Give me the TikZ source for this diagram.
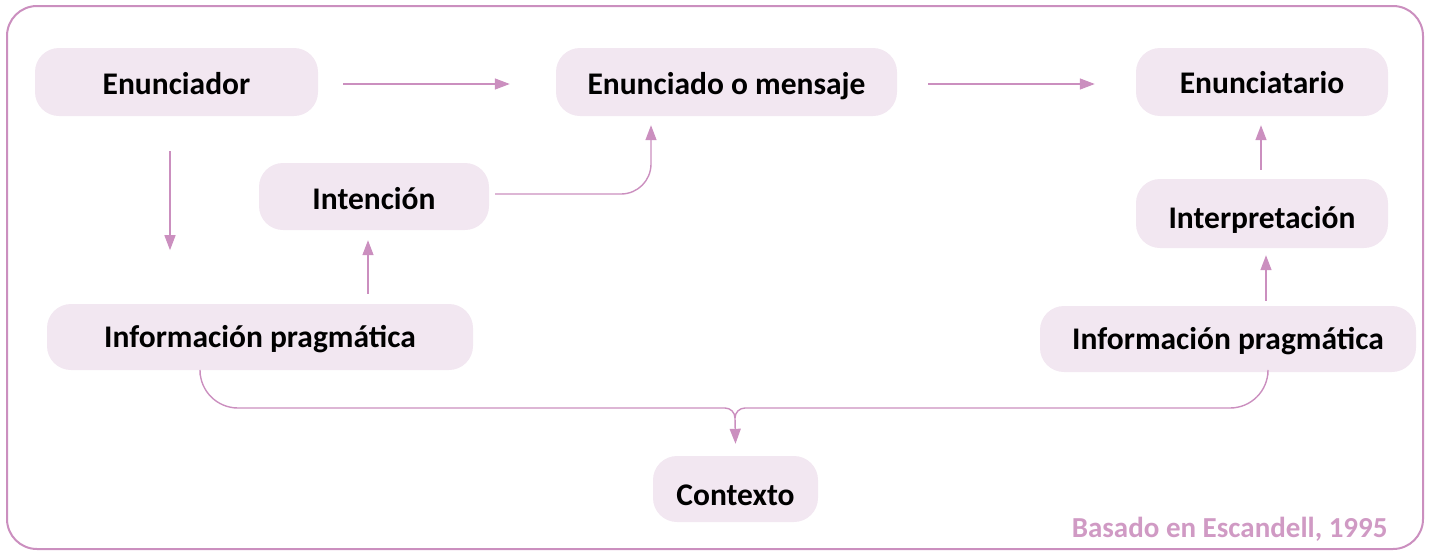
\documentclass[tikz,border=0pt]{standalone}
\usepackage{fontspec}
\setmainfont{Carlito}
\usetikzlibrary{arrows.meta}
\definecolor{frame}{HTML}{CB8FBF}
\definecolor{boxfill}{HTML}{F2E7F1}
\definecolor{credit}{HTML}{D09AC4}
\begin{document}
\begin{tikzpicture}[x=1pt,y=-1pt,
  box/.style={fill=boxfill, rounded corners=24pt, inner sep=0pt, text height=21pt, text depth=0pt, font=\fontsize{31.5}{36}\selectfont\bfseries, text=black},
  conn/.style={draw=frame, line width=1.4pt, -{Triangle[length=15pt,width=11pt]}},
  line/.style={draw=frame, line width=1.4pt}]
\useasboundingbox (0,0) rectangle (1429,552);
\draw[frame, line width=2pt, rounded corners=30pt] (7,6) rectangle (1423,549);
\node[box, minimum width=283pt, minimum height=68pt, text height=24pt] (enr) at (176.5,82) {Enunciador};
\node[box, minimum width=341pt, minimum height=68pt, text height=25pt] (msg) at (726.5,82) {Enunciado o mensaje};
\node[box, minimum width=252pt, minimum height=68pt, text height=23pt] (eta) at (1262,82) {Enunciatario};
\node[box, minimum width=230pt, minimum height=67pt, text height=25pt] (int) at (374,196.5) {Intención};
\node[box, minimum width=252pt, minimum height=69pt, text height=29pt] (itp) at (1262,213.5) {Interpretación};
\node[box, minimum width=426pt, minimum height=66pt] (ipl) at (260,337) {Información pragmática};
\node[box, minimum width=376pt, minimum height=66pt] (ipr) at (1228,339) {Información pragmática};
\node[box, minimum width=165pt, minimum height=66pt, text height=32pt] (ctx) at (735.5,489) {Contexto};
\node[font=\fontsize{29}{33}\selectfont\bfseries, text=credit, anchor=east] (cr) at (1391,529) {Basado en Escandell, 1995};
\coordinate (j) at (735,408);
\coordinate (b1) at (651,194);
\coordinate (bl) at (200,408);
\coordinate (br) at (1268,408);
\draw[conn] ([shift={(25pt,-2pt)}]enr.east) -- ([shift={(-46pt,-2pt)}]msg.west);
\draw[conn] ([shift={(31pt,-2pt)}]msg.east) -- ([shift={(-41pt,-2pt)}]eta.west);
\draw[conn] ([shift={(-6.5pt,-35pt)}]enr.south) -- ([shift={(-6.5pt,-134pt)}]enr.south);
\draw[conn] ([shift={(108pt,10pt)}]ipl.north) -- ([shift={(-6pt,-10pt)}]int.south);
\draw[conn, rounded corners=30pt] ([shift={(6pt,2.5pt)}]int.east) -- (b1) -- ([shift={(-75.5pt,-9pt)}]msg.south);
\draw[conn] ([shift={(-1pt,9pt)}]itp.north) -- ([shift={(-1pt,-9pt)}]eta.south);
\draw[conn] ([shift={(38pt,5pt)}]ipr.north) -- ([shift={(4pt,-7pt)}]itp.south);
\draw[line, rounded corners=38pt] ([shift={(-60pt,-5pt)}]ipl.south) -- (bl) -- ([xshift=-10pt]j);
\draw[line, rounded corners=38pt] ([shift={(40pt,-3pt)}]ipr.south) -- (br) -- ([xshift=10pt]j);
\draw[line] ([xshift=-10pt]j) to[out=0,in=90] ([yshift=-10pt]j);
\draw[line] ([xshift=10pt]j) to[out=180,in=90] ([yshift=-10pt]j);
\draw[conn] ([yshift=-10pt]j) -- ([yshift=12pt]ctx.north);
\end{tikzpicture}
\end{document}
